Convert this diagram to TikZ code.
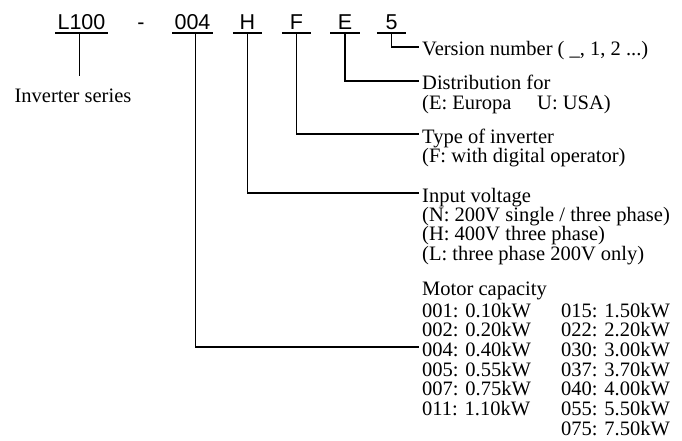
\documentclass[tikz,border=0pt]{standalone}
\usepackage{fontspec}
\setmainfont{Liberation Serif}
\newfontfamily\codefont{Liberation Sans}
\usepackage{tikz}

\begin{document}
\begin{tikzpicture}[x=1pt, y=-1pt,
        tag/.style={
            font=\codefont\fontsize{21.5}{24}\selectfont,
            text height=16pt, text depth=0pt,
            inner xsep=2pt, inner ysep=3pt,
            minimum width=29pt
        },
        field/.style={
            font=\fontsize{20.5}{18}\selectfont,
            text height=18pt, text depth=0pt,
            inner xsep=3pt, inner ysep=0pt, anchor=west
        },
        note/.style={
            font=\fontsize{20.5}{18}\selectfont, align=left,
            inner xsep=3pt, inner ysep=4.5pt, anchor=north west
        },
        wire/.style={line width=1.9pt}
    ]
        \useasboundingbox (0,0) rectangle (682,441);

        \node[tag] (cL) at (81.5,22) {L100};
        \node[tag, minimum width=0pt] (dash) at (141,22) {-};
        \node[tag] (c004) at (192.5,22) {004};
        \node[tag] (cH) at (247.5,22) {H};
        \node[tag] (cF) at (296.5,22) {F};
        \node[tag] (cE) at (345,22) {E};
        \node[tag] (c5) at (391.5,22) {5};

        \node[field, anchor=north, inner ysep=8pt] (series) at (73,76) {Inverter series};

        \node[field] (tVer) at (419,47) {Version number ( \_, 1, 2 ...)};

        \node[field] (tDist) at (419,81) {Distribution for};
        \node[note] (nDist) at (tDist.south west) {(E: Europa \quad U: USA)};

        \node[field] (tType) at (419,134) {Type of inverter};
        \node[note] (nType) at (tType.south west) {(F: with digital operator)};

        \node[field] (tInput) at (419,193) {Input voltage};
        \node[note] (nInput) at (tInput.south west)
            {(N: 200V single / three phase)\\(H: 400V three phase)\\(L: three phase 200V only)};

        \node[field] (tMotor) at (419,286) {Motor capacity};
        \node[field] (m1) at (419,308) {001: 0.10kW};
        \node[field] (m2) at (419,327.7) {002: 0.20kW};
        \node[field] (m3) at (419,347.4) {004: 0.40kW};
        \node[field] (m4) at (419,367.1) {005: 0.55kW};
        \node[field] (m5) at (419,386.8) {007: 0.75kW};
        \node[field] (m6) at (419,406.5) {011: 1.10kW};
        \node[field] (n1) at (558,308) {015: 1.50kW};
        \node[field] (n2) at (558,327.7) {022: 2.20kW};
        \node[field] (n3) at (558,347.4) {030: 3.00kW};
        \node[field] (n4) at (558,367.1) {037: 3.70kW};
        \node[field] (n5) at (558,386.8) {040: 4.00kW};
        \node[field] (n6) at (558,406.5) {055: 5.50kW};
        \node[field] (n7) at (558,426.2) {075: 7.50kW};

        \draw[wire] (cL.south west) -- (cL.south east);
        \draw[wire] (c004.south west) -- (c004.south east);
        \draw[wire] (cH.south west) -- (cH.south east);
        \draw[wire] (cF.south west) -- (cF.south east);
        \draw[wire] (cE.south west) -- (cE.south east);
        \draw[wire] (c5.south west) -- (c5.south east);

        \draw[wire] ([xshift=-2pt]cL.south) -- ([xshift=-2pt]cL.south |- series.north);
        \draw[wire] (c5.south) |- (tVer.west);
        \draw[wire] (cE.south) |- (tDist.west);
        \draw[wire] (cF.south) |- (tType.west);
        \draw[wire] (cH.south) |- (tInput.west);
        \draw[wire] ([xshift=3pt]c004.south) |- (m3.west);
    \end{tikzpicture}
\end{document}
